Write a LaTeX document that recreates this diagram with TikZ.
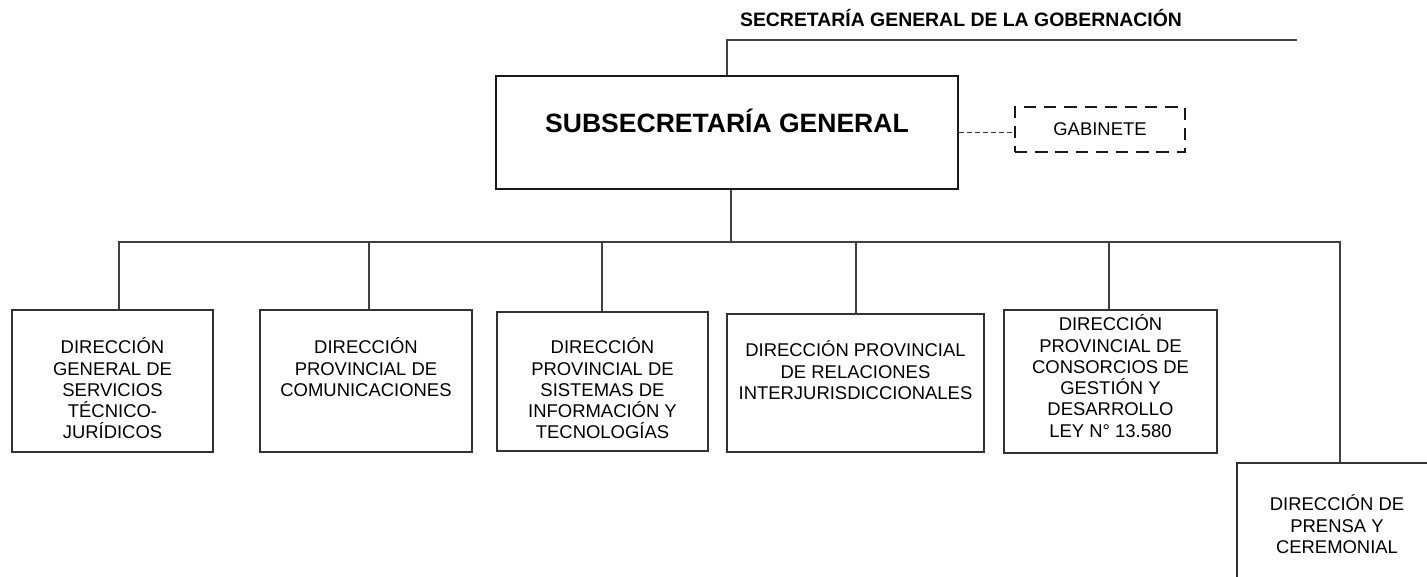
\documentclass[tikz,border=0pt]{standalone}
\usepackage{fontspec}
\setmainfont{Liberation Sans}
\usetikzlibrary{calc}

\begin{document}
\begin{tikzpicture}[line cap=butt,line join=miter,x=0.02cm,y=-0.02cm,
		link/.style={draw=black!75,line width=0.65pt},
		unit/.style={draw=black!80,line width=0.65pt,inner sep=0pt},
		unittext/.style={anchor=north,align=center,inner sep=0pt,text=black,font=\fontsize{10.5}{12.1}\selectfont}]
	\useasboundingbox (0,0) rectangle (1427,577);
	\clip (0,0) rectangle (1427,577);
	% cabecera
	\node[anchor=base,inner sep=0pt,text=black,font=\fontsize{11.05}{13}\selectfont\bfseries] (sgg) at (961,27) {SECRETARÍA GENERAL DE LA GOBERNACIÓN};
	\node[draw=black!90,line width=1.6pt,minimum width=9.24cm,minimum height=2.26cm,inner sep=0pt,text height=0.3cm,text depth=0.3cm,font=\fontsize{15.1}{17}\selectfont\bfseries] (main) at (727,132.5) {SUBSECRETARÍA GENERAL};
	\node[draw=black!90,line width=1.6pt,dash pattern=on 7pt off 4.5pt,minimum width=3.4cm,minimum height=0.9cm,inner sep=0pt,font=\fontsize{10.5}{12.1}\selectfont] (gab) at (1100,129.5) {GABINETE};
	\coordinate (sggend) at (1297,40);
	\draw[link] (main.north) |- (sggend);
	\draw[draw=black!80,line width=0.65pt,dash pattern=on 2.8pt off 1.7pt] (main.east) -- (main.east -| gab.west);
	% direcciones
	\node[unit,minimum width=4.02cm,minimum height=2.84cm] (d1) at (112.5,381) {};
	\node[unit,minimum width=4.24cm,minimum height=2.84cm] (d2) at (366,381) {};
	\node[unit,minimum width=4.22cm,minimum height=2.78cm] (d3) at (602.5,381.5) {};
	\node[unit,minimum width=5.14cm,minimum height=2.76cm] (d4) at (855.5,383) {};
	\node[unit,minimum width=4.26cm,minimum height=2.86cm] (d5) at (1110.5,381.5) {};
	\node[unit,minimum width=4.12cm,minimum height=2.84cm] (d6) at (1340,534) {};
	\node[unittext] (t1) at ($(d1.north)+(0,28)$) {DIRECCIÓN\\GENERAL DE\\SERVICIOS\\TÉCNICO-\\JURÍDICOS};
	\node[unittext] (t2) at ($(d2.north)+(0,28)$) {DIRECCIÓN\\PROVINCIAL DE\\COMUNICACIONES};
	\node[unittext] (t3) at ($(d3.north)+(0,26)$) {DIRECCIÓN\\PROVINCIAL DE\\SISTEMAS DE\\INFORMACIÓN Y\\TECNOLOGÍAS};
	\node[unittext] (t4) at ($(d4.north)+(0,27)$) {DIRECCIÓN PROVINCIAL\\DE RELACIONES\\INTERJURISDICCIONALES};
	\node[unittext] (t5) at ($(d5.north)+(0,5)$) {DIRECCIÓN\\PROVINCIAL DE\\CONSORCIOS DE\\GESTIÓN Y\\DESARROLLO\\LEY N° 13.580};
	\node[unittext] (t6) at ($(d6.north)+(-3,32)$) {DIRECCIÓN DE\\PRENSA Y\\CEREMONIAL};
	% conectores
	\coordinate (bar) at (731,242);
	\draw[link] ($(main.south)+(4,0)$) -- (bar);
	\foreach \d/\dx in {d1/6.5,d2/3,d3/-0.5,d4/0.5,d5/-1.5}
		\draw[link] ($(\d.north)+(\dx,0)$) |- (bar);
	\draw[link] (bar) -| (d6.north);
\end{tikzpicture}
\end{document}
